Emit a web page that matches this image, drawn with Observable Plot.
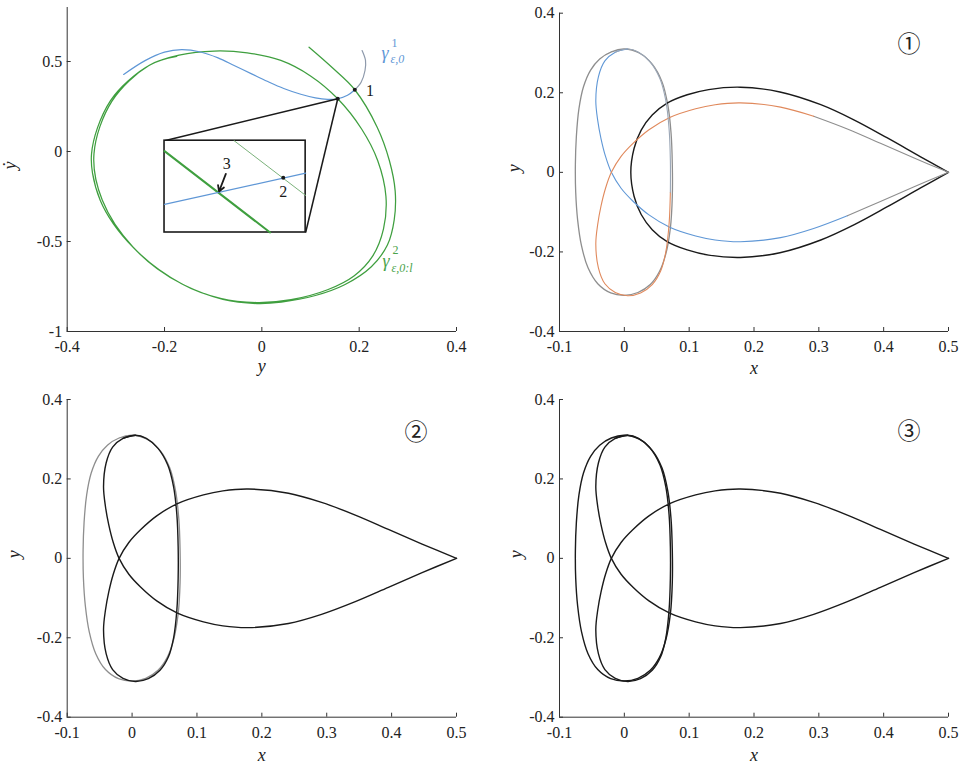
<!DOCTYPE html>
<html><head><meta charset="utf-8">
<script src="https://cdn.jsdelivr.net/npm/d3@7"></script>
<script src="https://cdn.jsdelivr.net/npm/@observablehq/plot@0.6"></script>
<style>
body{margin:0;background:#fff;}
#fig{position:relative;width:961px;height:769px;background:#fff;overflow:hidden}
#fig > svg{position:absolute;}
</style></head><body><div id="fig"></div>
<script>
// ---------- tick values ----------
const ticksAx = [-0.4, -0.2, 0, 0.2, 0.4];
const ticksAy = [-1, -0.5, 0, 0.5];
const ticksXYx = [-0.1, 0, 0.1, 0.2, 0.3, 0.4, 0.5];
const ticksXYy = [-0.4, -0.2, 0, 0.2, 0.4];

// ---------- panel A (y, ydot) ----------
const gammaOne = [
  [-0.284, 0.428], [-0.240, 0.505], [-0.200, 0.552], [-0.165, 0.566], [-0.126, 0.553],
  [-0.090, 0.520], [-0.057, 0.478], [-0.020, 0.430], [0.011, 0.390], [0.045, 0.350],
  [0.080, 0.318], [0.110, 0.298], [0.135, 0.290], [0.156, 0.293], [0.176, 0.312],
  [0.191, 0.343], [0.204, 0.385], [0.212, 0.450], [0.213, 0.506], [0.206, 0.561]
];
const gammaTwo = [
  [0.097, 0.579], [0.145, 0.465], [0.191, 0.343], [0.237, 0.135], [0.262, -0.050],
  [0.274, -0.220], [0.272, -0.380], [0.258, -0.520], [0.225, -0.640], [0.170, -0.740],
  [0.110, -0.800], [0.040, -0.837], [-0.010, -0.845], [-0.080, -0.822], [-0.160, -0.742],
  [-0.215, -0.652], [-0.263, -0.537], [-0.305, -0.402], [-0.332, -0.272], [-0.348, -0.120],
  [-0.350, -0.013], [-0.338, 0.130], [-0.311, 0.283], [-0.275, 0.392], [-0.229, 0.482],
  [-0.170, 0.535], [-0.098, 0.558], [-0.030, 0.548], [0.039, 0.506], [0.100, 0.420],
  [0.156, 0.293], [0.205, 0.125], [0.238, -0.050], [0.255, -0.250], [0.250, -0.430],
  [0.228, -0.580], [0.190, -0.690], [0.135, -0.768], [0.060, -0.823], [-0.010, -0.839],
  [-0.085, -0.816], [-0.165, -0.735], [-0.265, -0.530], [-0.328, -0.270], [-0.345, -0.013],
  [-0.308, 0.280], [-0.232, 0.478], [-0.175, 0.528]
];
const insetBox = [{x1: -0.2, x2: 0.09, y1: -0.45, y2: 0.06}];
const zoomLinks = [
  {x1: 0.156, y1: 0.293, x2: -0.2, y2: 0.06},
  {x1: 0.156, y1: 0.293, x2: 0.09, y2: -0.45}
];
const insetGreenThick = [[-0.2, 0.002], [0.017, -0.45]];
const insetGreenThin = [[-0.057, 0.06], [0.09, -0.244]];
const insetBlue = [[-0.2, -0.294], [0.09, -0.120]];
const markedPoints = [[0.191, 0.343], [0.156, 0.293], [0.044, -0.146]];
const pointLabels = [
  {x: 0.222, y: 0.335, t: "1", w: "normal"},
  {x: 0.044, y: -0.222, t: "2", w: "bold"},
  {x: -0.072, y: -0.066, t: "3", w: "bold"}
];
const arrowThree = [{x1: -0.074, y1: -0.124, x2: -0.088, y2: -0.222}];

// ---------- panels 1-3 (x, y) ----------
const ellipseLoop = [
  [0.000, 0.310], [-0.020, 0.303], [-0.038, 0.285], [-0.052, 0.257], [-0.063, 0.215],
  [-0.070, 0.160], [-0.074, 0.090], [-0.0755, 0.020], [-0.075, -0.050], [-0.072, -0.120],
  [-0.066, -0.185], [-0.056, -0.240], [-0.041, -0.280], [-0.021, -0.303], [0.000, -0.309],
  [0.021, -0.302], [0.040, -0.282], [0.054, -0.250], [0.064, -0.205], [0.071, -0.140],
  [0.074, -0.060], [0.074, 0.020], [0.072, 0.100], [0.067, 0.170], [0.058, 0.228],
  [0.043, 0.272], [0.023, 0.300]
];
const teardropOuter = [
  [0.500, 0.000], [0.457, 0.039], [0.405, 0.087], [0.354, 0.132], [0.303, 0.170],
  [0.240, 0.202], [0.179, 0.214], [0.130, 0.208], [0.097, 0.195], [0.066, 0.174],
  [0.043, 0.144], [0.026, 0.106], [0.015, 0.060], [0.0100, 0.000], [0.015, -0.060],
  [0.026, -0.106], [0.043, -0.144], [0.066, -0.174], [0.097, -0.195], [0.130, -0.208],
  [0.179, -0.214], [0.240, -0.202], [0.303, -0.170], [0.354, -0.132], [0.405, -0.087],
  [0.457, -0.039], [0.500, 0.000]
];
const orbitDown = [
  [0.005, 0.310], [-0.014, 0.302], [-0.030, 0.280], [-0.040, 0.240], [-0.044, 0.180],
  [-0.041, 0.130], [-0.036, 0.085], [-0.029, 0.040], [-0.020, 0.000], [-0.005, -0.040],
  [0.013, -0.072], [0.038, -0.107], [0.070, -0.138], [0.110, -0.160], [0.140, -0.170],
  [0.179, -0.1745], [0.241, -0.164], [0.292, -0.141], [0.344, -0.109], [0.395, -0.073],
  [0.447, -0.036], [0.500, 0.000]
];
const orbitUp = [
  [0.500, 0.000], [0.447, 0.036], [0.395, 0.073], [0.344, 0.109], [0.292, 0.141],
  [0.241, 0.164], [0.179, 0.1745], [0.140, 0.170], [0.110, 0.160], [0.070, 0.138],
  [0.038, 0.107], [0.013, 0.072], [-0.005, 0.040], [-0.020, 0.000], [-0.029, -0.040],
  [-0.036, -0.085], [-0.041, -0.130], [-0.044, -0.180], [-0.040, -0.240], [-0.030, -0.280],
  [-0.014, -0.302], [0.005, -0.310], [0.025, -0.303], [0.043, -0.282], [0.056, -0.248],
  [0.064, -0.200], [0.069, -0.130], [0.071, -0.050], [0.071, 0.030], [0.069, 0.110],
  [0.064, 0.180], [0.055, 0.235], [0.040, 0.277], [0.022, 0.302], [0.005, 0.310],
  [-0.014, 0.302]
];

// ---------- colours ----------
const BLUE = "#5f97d6", ORANGE = "#e0895c", GREEN = "#3f9f3f", GREY = "#8e8e8e", BLACK = "#1a1a1a";
const SERIF = "'Liberation Serif', 'DejaVu Serif', serif";

const X = d => d[0], Y = d => d[1];
const line = (data, stroke, strokeWidth = 1.2, curve = "catmull-rom") =>
  Plot.line(data, {x: X, y: Y, stroke, strokeWidth, curve});

function panel(c) {
  const svg = Plot.plot({
    width: c.w, height: c.h,
    marginLeft: c.mL, marginRight: c.mR, marginTop: c.mT, marginBottom: c.mB,
    x: {domain: c.xd}, y: {domain: c.yd},
    style: {fontFamily: SERIF, fontSize: "16px", background: "transparent", color: "#222", overflow: "visible"},
    marks: [
      ...c.marks,
      Plot.ruleY([c.yd[0]], {stroke: "#333", strokeWidth: 1}),
      Plot.ruleX([c.xd[0]], {stroke: "#333", strokeWidth: 1}),
      Plot.axisX({ticks: c.xt, tickSize: -4, tickPadding: 13, tickFormat: d => String(d), label: null, stroke: "#333", fontSize: 16, fontFamily: SERIF}),
      Plot.axisY({ticks: c.yt, tickSize: -4, tickPadding: 9, tickFormat: d => String(d), label: null, stroke: "#333", fontSize: 16, fontFamily: SERIF}),
      Plot.text([c.xlab], {frameAnchor: "bottom", dy: c.xlabDy, text: d => d, fontStyle: "italic", fontSize: 18, fontFamily: SERIF, fill: "#222"}),
      Plot.text([c.ylab], {frameAnchor: "left", dx: c.ylabDx, rotate: -90, text: d => d, fontStyle: "italic", fontSize: 18, fontFamily: SERIF, fill: "#222"}),
      c.tag ? Plot.text([c.tag], {frameAnchor: "top-right", dx: c.tagDx, dy: c.tagDy, text: d => d, fontFamily: "'Noto Sans CJK JP', sans-serif", fontSize: 23, fill: "#222"}) : null
    ]
  });
  svg.style.left = c.left + "px";
  svg.style.top = c.top + "px";
  document.getElementById("fig").appendChild(svg);
}

// Panel A
panel({
  left: 0, top: 0, w: 480, h: 380, mL: 66.7, mR: 24, mT: 7, mB: 49,
  xd: [-0.4, 0.4], yd: [-1, 0.8], xt: ticksAx, yt: ticksAy,
  xlab: "y", xlabDy: 40, ylab: "ẏ", ylabDx: -57,
  marks: [
    line(gammaTwo, GREEN, 1.25),
    line(gammaOne.slice(0, 16), BLUE, 1.2),
    line(gammaOne.slice(15), "#8d99ab", 1.2),
    Plot.link(zoomLinks, {x1: "x1", y1: "y1", x2: "x2", y2: "y2", stroke: BLACK, strokeWidth: 1.5}),
    Plot.rect(insetBox, {x1: "x1", x2: "x2", y1: "y1", y2: "y2", fill: "white", stroke: BLACK, strokeWidth: 1.6}),
    Plot.line(insetGreenThin, {x: X, y: Y, stroke: "#7bb27b", strokeWidth: 1}),
    Plot.line(insetGreenThick, {x: X, y: Y, stroke: GREEN, strokeWidth: 2}),
    Plot.line(insetBlue, {x: X, y: Y, stroke: BLUE, strokeWidth: 1.2}),
    Plot.dot(markedPoints, {x: X, y: Y, r: 2, fill: BLACK}),
    Plot.arrow(arrowThree, {x1: "x1", y1: "y1", x2: "x2", y2: "y2", stroke: BLACK, strokeWidth: 1.8, headLength: 9}),
    Plot.text(pointLabels, {x: "x", y: "y", text: "t", fontWeight: d => d.w, fontSize: 16, fontFamily: SERIF, fill: BLACK}),
    Plot.text(["γ"], {x: () => 0.246, y: () => 0.544, text: d => d, textAnchor: "start", fontStyle: "italic", fontSize: 18, fontFamily: SERIF, fill: BLUE}),
    Plot.text(["1"], {x: () => 0.246, y: () => 0.544, dx: 10, dy: -10, text: d => d, textAnchor: "start", fontSize: 12, fontFamily: SERIF, fill: BLUE}),
    Plot.text(["ε,0"], {x: () => 0.246, y: () => 0.544, dx: 9, dy: 6, text: d => d, textAnchor: "start", fontStyle: "italic", fontSize: 12, fontFamily: SERIF, fill: BLUE}),
    Plot.text(["γ"], {x: () => 0.248, y: () => -0.61, text: d => d, textAnchor: "start", fontStyle: "italic", fontSize: 18, fontFamily: SERIF, fill: "#4aa34a"}),
    Plot.text(["2"], {x: () => 0.248, y: () => -0.61, dx: 10, dy: -11, text: d => d, textAnchor: "start", fontSize: 12, fontFamily: SERIF, fill: "#4aa34a"}),
    Plot.text(["ε,0:l"], {x: () => 0.248, y: () => -0.61, dx: 9, dy: 7, text: d => d, textAnchor: "start", fontStyle: "italic", fontSize: 12, fontFamily: SERIF, fill: "#4aa34a"})
  ]
});

// Panel 1
panel({
  left: 480, top: 0, w: 481, h: 380, mL: 79, mR: 13, mT: 12.7, mB: 49,
  xd: [-0.1, 0.5], yd: [-0.4, 0.4], xt: ticksXYx, yt: ticksXYy,
  xlab: "x", xlabDy: 42, ylab: "y", ylabDx: -45, tag: "①", tagDx: -28, tagDy: 22,
  marks: [
    line(ellipseLoop, GREY, 1.3, "catmull-rom-closed"),
    line(teardropOuter, BLACK, 1.4),
    line(orbitDown.slice(0, 19), BLUE, 1.1),
    line(orbitDown.slice(18), GREY, 1.1),
    line(orbitUp.slice(0, 5), GREY, 1.1),
    line(orbitUp.slice(4, 28), ORANGE, 1.1),
    line(orbitUp.slice(27), "#9aa6b6", 1.1)
  ]
});

// Panel 2
panel({
  left: 0, top: 380, w: 480, h: 389, mL: 66.7, mR: 24, mT: 19, mB: 52.3,
  xd: [-0.1, 0.5], yd: [-0.4, 0.4], xt: ticksXYx, yt: ticksXYy,
  xlab: "x", xlabDy: 44, ylab: "y", ylabDx: -53, tag: "②", tagDx: -29, tagDy: 24,
  marks: [
    line(ellipseLoop, GREY, 1.3, "catmull-rom-closed"),
    line(orbitDown, BLACK, 1.4),
    line(orbitUp, BLACK, 1.4)
  ]
});

// Panel 3
panel({
  left: 480, top: 380, w: 481, h: 389, mL: 79, mR: 13, mT: 19, mB: 52.3,
  xd: [-0.1, 0.5], yd: [-0.4, 0.4], xt: ticksXYx, yt: ticksXYy,
  xlab: "x", xlabDy: 44, ylab: "y", ylabDx: -43, tag: "③", tagDx: -28, tagDy: 23,
  marks: [
    line(ellipseLoop, BLACK, 1.4, "catmull-rom-closed"),
    line(orbitDown, BLACK, 1.4),
    line(orbitUp, BLACK, 1.4)
  ]
});
</script></body></html>
